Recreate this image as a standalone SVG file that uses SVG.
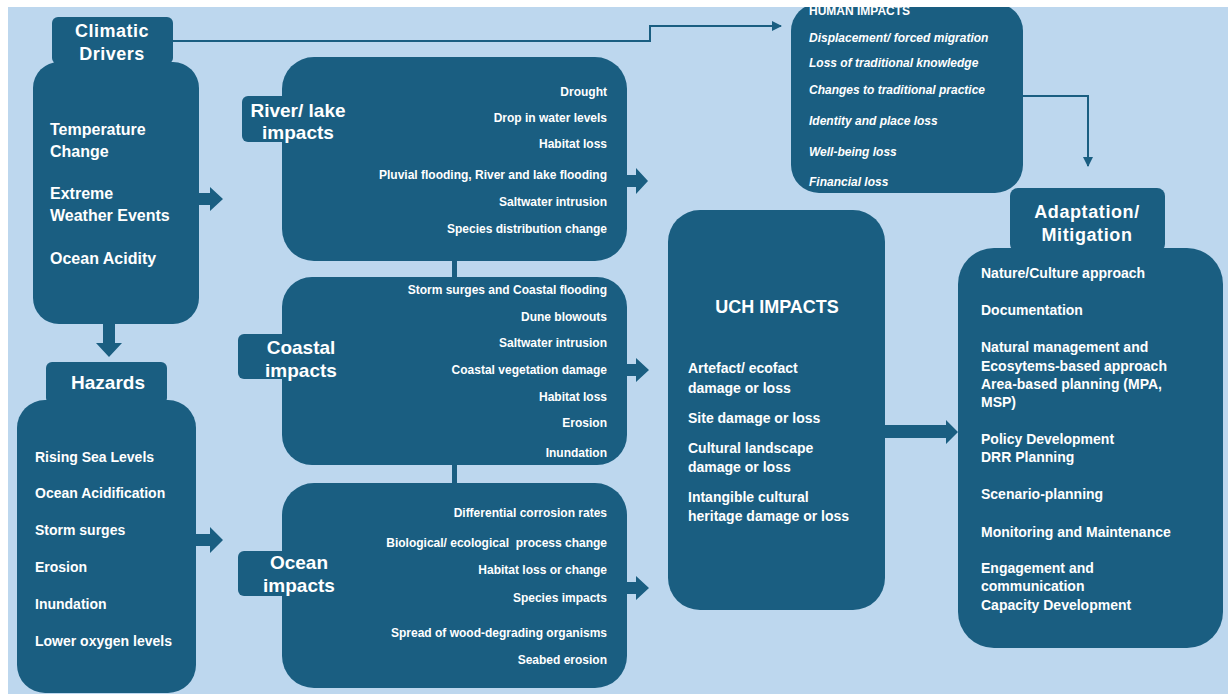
<svg xmlns="http://www.w3.org/2000/svg" width="1228" height="694" viewBox="0 0 1228 694">
<defs>
<style>
.bx{fill:#1A5E81}
.t{font-family:"Liberation Sans",Arial,sans-serif;font-weight:bold;fill:#FFFFFF}
.h{font-size:19px;text-anchor:middle}
.s12{font-size:12px}
.s14{font-size:14px}
.r{text-anchor:end}
.it{font-style:italic;font-size:12px}
.ln{fill:none;stroke:#1A5E81;stroke-width:2}
.ar{fill:#1A5E81}
</style>
<marker id="tri" viewBox="0 0 10 10" refX="9" refY="5" markerWidth="5" markerHeight="5" orient="auto" markerUnits="strokeWidth">
<path d="M0,0 L10,5 L0,10 z" fill="#1A5E81"/>
</marker>
</defs>
<rect x="0" y="0" width="1228" height="694" fill="#FFFFFF"/>
<rect x="8" y="7" width="1220" height="687" fill="#BDD7EE"/>

<g id="connectors">
<path class="ln" d="M173,41 H650 V26 H781" marker-end="url(#tri)"/>
<path class="ln" d="M1023,96 H1088 V166" marker-end="url(#tri)"/>
<polygon class="ar" points="199,193 210,193 210,187 223,199 210,211 210,205 199,205"/>
<polygon class="ar" points="103,323 115,323 115,343 122,343 109,357 96,343 103,343"/>
<polygon class="ar" points="196,534 210,534 210,527 223,540 210,553 210,546 196,546"/>
<polygon class="ar" points="626,175 636,175 636,168 648,181 636,194 636,187 626,187"/>
<polygon class="ar" points="626,364 636,364 636,358 649,370 636,382 636,376 626,376"/>
<polygon class="ar" points="626,582 636,582 636,576 649,588 636,600 636,594 626,594"/>
<polygon class="ar" points="884,425 946,425 946,420 958,432 946,444 946,438 884,438"/>
<rect class="ar" x="452" y="258" width="5" height="22"/>
<rect class="ar" x="452" y="462" width="5" height="23"/>
</g>

<g id="climatic-drivers">
<rect class="bx" x="52" y="17" width="121" height="47" rx="6"/>
<rect class="bx" x="33" y="62" width="166" height="262" rx="26"/>
<text class="t" x="112" y="37" font-size="18" text-anchor="middle" letter-spacing="0.5">Climatic</text>
<text class="t" x="112" y="60" font-size="18" text-anchor="middle" letter-spacing="0.5">Drivers</text>
<text class="t" x="50" y="135" font-size="16">Temperature</text>
<text class="t" x="50" y="157" font-size="16">Change</text>
<text class="t" x="50" y="199" font-size="16">Extreme</text>
<text class="t" x="50" y="221" font-size="16">Weather Events</text>
<text class="t" x="50" y="264" font-size="16">Ocean Acidity</text>
</g>

<g id="hazards">
<rect class="bx" x="46" y="362" width="121" height="42" rx="6"/>
<rect class="bx" x="17" y="400" width="179" height="293" rx="28"/>
<text class="t h" x="108" y="389">Hazards</text>
<text class="t s14" x="35" y="462">Rising Sea Levels</text>
<text class="t s14" x="35" y="498">Ocean Acidification</text>
<text class="t s14" x="35" y="535">Storm surges</text>
<text class="t s14" x="35" y="572">Erosion</text>
<text class="t s14" x="35" y="609">Inundation</text>
<text class="t s14" x="35" y="646">Lower oxygen levels</text>
</g>

<g id="river-lake-impacts">
<rect class="bx" x="242" y="96" width="100" height="46" rx="6"/>
<rect class="bx" x="282" y="57" width="345" height="204" rx="32"/>
<text class="t h" x="298" y="117">River/ lake</text>
<text class="t h" x="298" y="139">impacts</text>
<text class="t s12 r" x="607" y="96">Drought</text>
<text class="t s12 r" x="607" y="122">Drop in water levels</text>
<text class="t s12 r" x="607" y="148">Habitat loss</text>
<text class="t s12 r" x="607" y="179">Pluvial flooding, River and lake flooding</text>
<text class="t s12 r" x="607" y="206">Saltwater intrusion</text>
<text class="t s12 r" x="607" y="233">Species distribution change</text>
</g>

<g id="coastal-impacts">
<rect class="bx" x="238" y="334" width="100" height="45" rx="6"/>
<rect class="bx" x="282" y="277" width="345" height="188" rx="30"/>
<text class="t h" x="301" y="354">Coastal</text>
<text class="t h" x="301" y="377">impacts</text>
<text class="t s12 r" x="607" y="294">Storm surges and Coastal flooding</text>
<text class="t s12 r" x="607" y="321">Dune blowouts</text>
<text class="t s12 r" x="607" y="347">Saltwater intrusion</text>
<text class="t s12 r" x="607" y="374">Coastal vegetation damage</text>
<text class="t s12 r" x="607" y="401">Habitat loss</text>
<text class="t s12 r" x="607" y="427">Erosion</text>
<text class="t s12 r" x="607" y="457">Inundation</text>
</g>

<g id="ocean-impacts">
<rect class="bx" x="238" y="551" width="100" height="45" rx="6"/>
<rect class="bx" x="282" y="483" width="345" height="205" rx="32"/>
<text class="t h" x="299" y="569">Ocean</text>
<text class="t h" x="299" y="592">impacts</text>
<text class="t s12 r" x="607" y="517">Differential corrosion rates</text>
<text class="t s12 r" x="607" y="547" xml:space="preserve">Biological/ ecological  process change</text>
<text class="t s12 r" x="607" y="574">Habitat loss or change</text>
<text class="t s12 r" x="607" y="602">Species impacts</text>
<text class="t s12 r" x="607" y="637">Spread of wood-degrading organisms</text>
<text class="t s12 r" x="607" y="664">Seabed erosion</text>
</g>

<g id="uch-impacts">
<rect class="bx" x="668" y="210" width="217" height="400" rx="32"/>
<text class="t" x="777" y="313" font-size="18" text-anchor="middle">UCH IMPACTS</text>
<text class="t s14" x="688" y="373">Artefact/ ecofact</text>
<text class="t s14" x="688" y="393">damage or loss</text>
<text class="t s14" x="688" y="423">Site damage or loss</text>
<text class="t s14" x="688" y="453">Cultural landscape</text>
<text class="t s14" x="688" y="472">damage or loss</text>
<text class="t s14" x="688" y="502">Intangible cultural</text>
<text class="t s14" x="688" y="521">heritage damage or loss</text>
</g>

<g id="human-impacts">
<rect class="bx" x="791" y="3" width="232" height="190" rx="28"/>
<text class="t s12" x="809" y="15">HUMAN IMPACTS</text>
<text class="t it" x="809" y="42">Displacement/ forced migration</text>
<text class="t it" x="809" y="67">Loss of traditional knowledge</text>
<text class="t it" x="809" y="94">Changes to traditional practice</text>
<text class="t it" x="809" y="125">Identity and place loss</text>
<text class="t it" x="809" y="156">Well-being loss</text>
<text class="t it" x="809" y="186">Financial loss</text>
</g>

<g id="adaptation-mitigation">
<rect class="bx" x="1010" y="188" width="155" height="64" rx="8"/>
<rect class="bx" x="958" y="248" width="265" height="400" rx="36"/>
<text class="t" x="1087" y="218" font-size="18" text-anchor="middle" letter-spacing="0.6">Adaptation/</text>
<text class="t" x="1087" y="241" font-size="18" text-anchor="middle" letter-spacing="0.6">Mitigation</text>
<text class="t s14" x="981" y="278">Nature/Culture approach</text>
<text class="t s14" x="981" y="315">Documentation</text>
<text class="t s14" x="981" y="352">Natural management and</text>
<text class="t s14" x="981" y="371">Ecosytems-based approach</text>
<text class="t s14" x="981" y="389">Area-based planning (MPA,</text>
<text class="t s14" x="981" y="407">MSP)</text>
<text class="t s14" x="981" y="444">Policy Development</text>
<text class="t s14" x="981" y="462">DRR Planning</text>
<text class="t s14" x="981" y="499">Scenario-planning</text>
<text class="t s14" x="981" y="537">Monitoring and Maintenance</text>
<text class="t s14" x="981" y="573">Engagement and</text>
<text class="t s14" x="981" y="591">communication</text>
<text class="t s14" x="981" y="610">Capacity Development</text>
</g>

<rect x="0" y="0" width="1228" height="7" fill="#FFFFFF"/>
<rect x="0" y="0" width="8" height="694" fill="#FFFFFF"/>
</svg>
